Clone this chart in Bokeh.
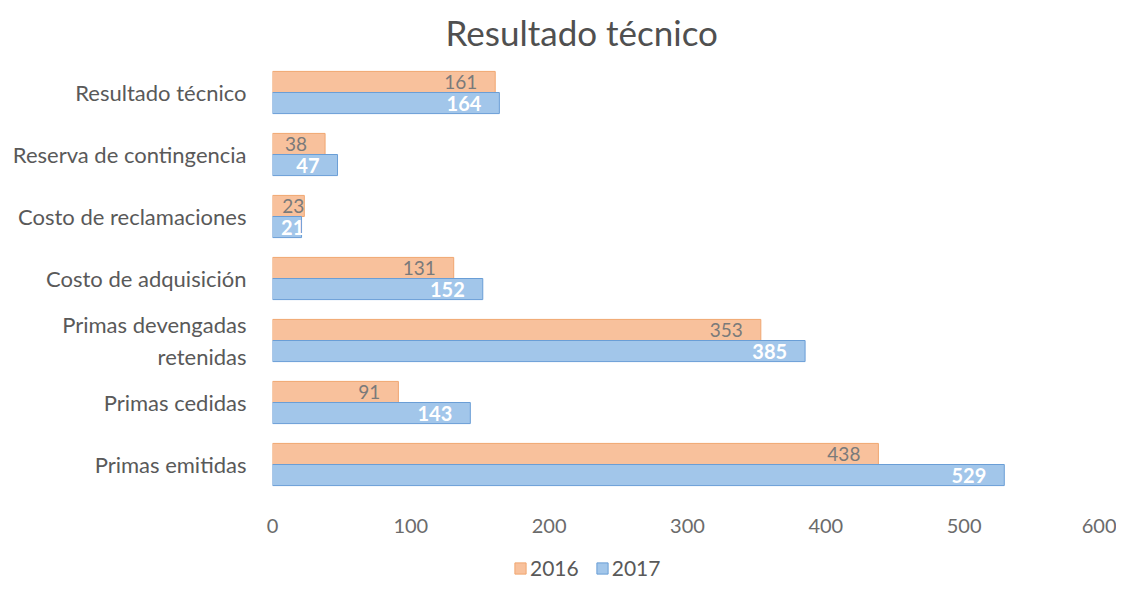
from bokeh.plotting import figure
from bokeh.layouts import column
from bokeh.models import ColumnDataSource, Range1d, Legend, LegendItem, FixedTicker
from bokeh.transform import dodge
from bokeh.core.properties import value
from bokeh.embed import file_html
from bokeh.resources import INLINE

# ---- data (bottom to top) ----
categories = ["Primas emitidas", "Primas cedidas", "Primas devengadas\nretenidas",
              "Costo de adquisición", "Costo de reclamaciones",
              "Reserva de contingencia", "Resultado técnico"]
v2016 = [438, 91, 353, 131, 23, 38, 161]
v2017 = [529, 143, 385, 152, 21, 47, 164]
x_ticks = [0, 100, 200, 300, 400, 500, 600]
series_names = ["2016", "2017"]

FONT = "Lato"
c16_fill, c16_line = "#F8C19C", "#F0A670"
c17_fill, c17_line = "#A2C6EA", "#6A9ED6"

src = ColumnDataSource(dict(
    cat=categories,
    v16=v2016,
    v17=v2017,
    l16=[str(v) for v in v2016],
    l17=[str(v) for v in v2017],
    lx16=[max(v, 36) for v in v2016],
    lx17=[max(v, 36) for v in v2017],
))

p = figure(width=1116, height=553, y_range=categories, x_range=Range1d(0, 600),
           output_backend="svg", toolbar_location=None,
           min_border_left=272, min_border_right=14, min_border_top=61, min_border_bottom=58)
p.outline_line_color = None
p.xgrid.visible = False
p.ygrid.visible = False
p.y_range.range_padding = 0

r16 = p.hbar(y=dodge("cat", 0.17, range=p.y_range), right="v16", left=0, height=0.34,
             source=src, fill_color=c16_fill, line_color=c16_line, line_width=1)
r17 = p.hbar(y=dodge("cat", -0.17, range=p.y_range), right="v17", left=0, height=0.34,
             source=src, fill_color=c17_fill, line_color=c17_line, line_width=1)

p.text(x="lx16", y=dodge("cat", 0.17, range=p.y_range), text="l16", source=src,
       text_align="right", text_baseline="middle", x_offset=-18,
       text_font=value(FONT), text_font_size="19px", text_color="#7a7a7a")
p.text(x="lx17", y=dodge("cat", -0.17, range=p.y_range), text="l17", source=src,
       text_align="right", text_baseline="middle", x_offset=-18,
       text_font=value(FONT), text_font_size="20px", text_color="white",
       text_font_style="bold")

# axes
p.xaxis.ticker = FixedTicker(ticks=x_ticks)
for ax in (p.xaxis, p.yaxis):
    ax.axis_line_color = None
    ax.major_tick_line_color = None
    ax.minor_tick_line_color = None
    ax.major_label_text_font = FONT
p.xaxis.major_label_text_font_size = "20px"
p.yaxis.major_label_text_font_size = "22px"
p.xaxis.major_label_text_color = "#6b6b6b"
p.yaxis.major_label_text_color = "#595959"
p.xaxis.major_label_standoff = 17
p.yaxis.major_label_standoff = 20

# title
p.title.text = "Resultado técnico"
p.title.text_font = FONT
p.title.text_font_size = "35px"
p.title.text_font_style = "normal"
p.title.text_color = "#505050"
p.title.align = "left"
p.title.offset = 173
p.title.standoff = 17

# legend strip (separate small figure below the chart); its swatch glyphs sit outside its visible range
p2 = figure(width=1116, height=31, x_range=Range1d(0, 1), y_range=Range1d(0, 1),
            x_axis_type=None, y_axis_type=None, output_backend="svg", toolbar_location=None,
            min_border=0)
p2.outline_line_color = None
p2.xgrid.visible = False
p2.ygrid.visible = False
e16 = p2.quad(left=[5], right=[6], bottom=[5], top=[6], fill_color=c16_fill, line_color=c16_line)
e17 = p2.quad(left=[5], right=[6], bottom=[5], top=[6], fill_color=c17_fill, line_color=c17_line)
legend = Legend(items=[LegendItem(label=series_names[0], renderers=[e16]),
                       LegendItem(label=series_names[1], renderers=[e17])],
                orientation="horizontal", location=(241, 4),
                glyph_width=14, glyph_height=14, label_standoff=3, spacing=16,
                padding=0, margin=0, border_line_color=None, background_fill_alpha=0,
                label_text_font=FONT, label_text_font_size="21px", label_text_color="#595959")
p2.add_layout(legend, "center")

open("out.html", "w").write(file_html(column(p, p2), INLINE))
